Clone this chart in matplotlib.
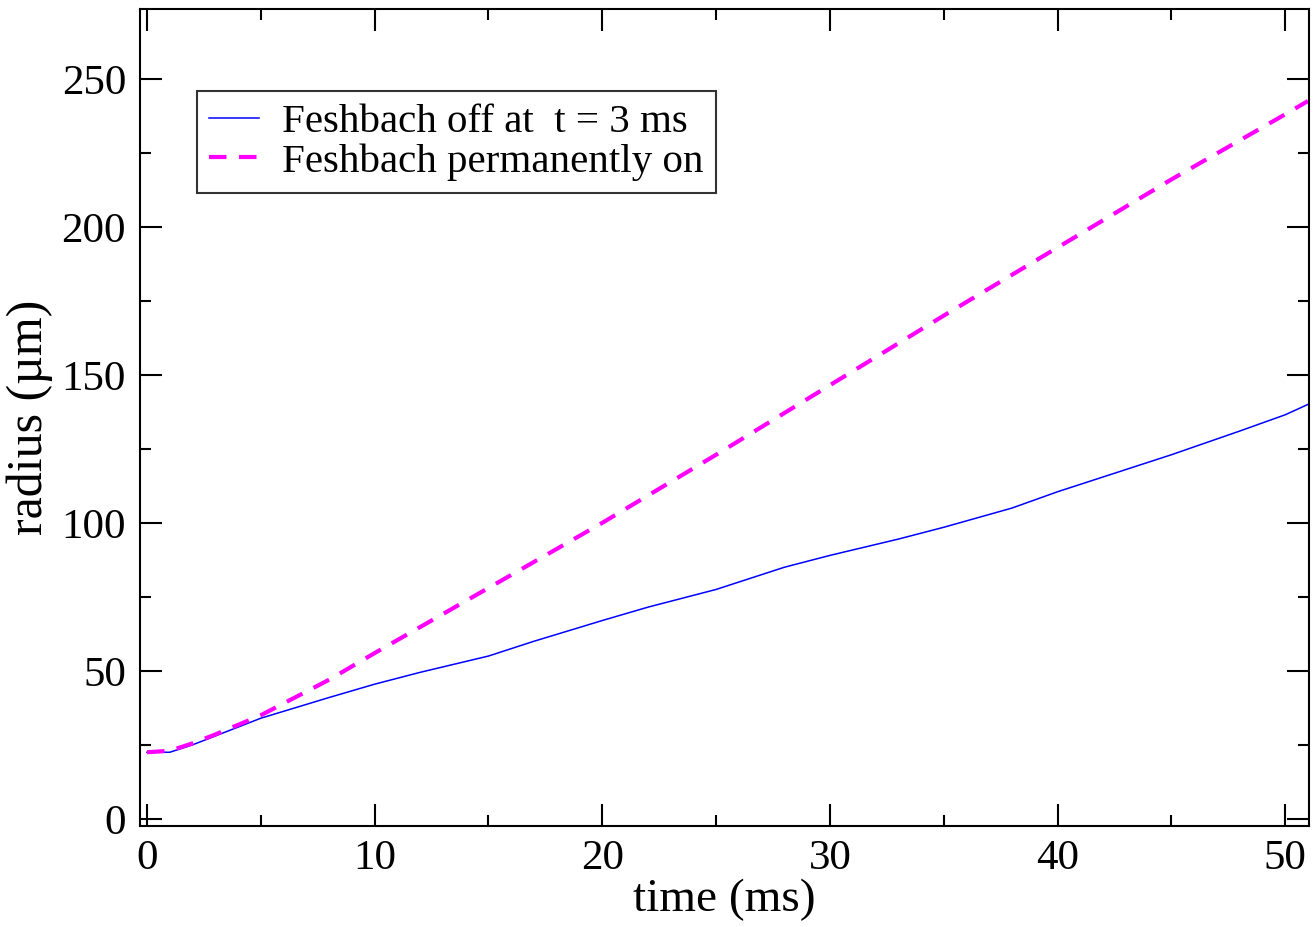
import numpy as np
import matplotlib.pyplot as plt
from matplotlib.ticker import MultipleLocator

plt.rcParams['font.family'] = ['Liberation Serif', 'DejaVu Serif']

# blue: Feshbach switched off at t = 3 ms
t_off = [0, 1, 2, 3, 5, 8, 10, 12, 15, 17, 20, 22, 25, 28, 30, 33, 35, 38, 40, 43, 45, 48, 50, 51]
r_off = [22.5, 22.5, 25, 28, 34, 41, 45.5, 49.5, 55, 60, 67, 71.5, 77.5, 85, 89, 94.5, 98.5, 105, 110.5, 118, 123, 131, 136.5, 140]

# magenta: Feshbach permanently on
t_on = [0, 1, 2, 3, 5, 8, 10, 15, 20, 25, 30, 35, 40, 45, 50, 51]
r_on = [22.5, 23, 25.5, 28.5, 35, 47, 56, 78, 100, 123, 146.5, 170, 193, 216, 238, 242.5]

fh, axh = plt.subplots(figsize=(13.13, 9.27), dpi=100)
fh.subplots_adjust(left=0.1066, right=0.997, bottom=0.109, top=0.99)

axh.plot(t_off, r_off, '-', color='#0000ff', lw=1.1, label='Feshbach off at  t = 3 ms')
axh.plot(t_on, r_on, '--', color='#ff00ff', lw=3, dashes=(4.2, 3.0), label='Feshbach permanently on')

axh.set_xlim(-0.31, 51.05)
axh.set_ylim(-2.4, 273.5)
axh.xaxis.set_major_locator(MultipleLocator(10))
axh.xaxis.set_minor_locator(MultipleLocator(5))
axh.yaxis.set_major_locator(MultipleLocator(50))
axh.yaxis.set_minor_locator(MultipleLocator(25))
axh.tick_params(which='both', direction='in', top=True, right=True, width=1.5, labelsize=31, pad=10)
axh.tick_params(which='major', length=16)
axh.tick_params(which='minor', length=8)
for s in axh.spines.values():
    s.set_linewidth(1.5)

axh.set_xlabel('time (ms)', fontsize=34, labelpad=0)
axh.set_ylabel('radius (\u00b5m)', fontsize=36, labelpad=6)

leg = axh.legend(loc='upper left', bbox_to_anchor=(0.0488, 0.900), fontsize=29.5, frameon=True,
                 fancybox=False, edgecolor='black', handlelength=1.22, handletextpad=0.56,
                 borderpad=0.3, labelspacing=0.05, borderaxespad=0)
leg.get_frame().set_linewidth(1.5)

fh.savefig('out.png', dpi=100)
